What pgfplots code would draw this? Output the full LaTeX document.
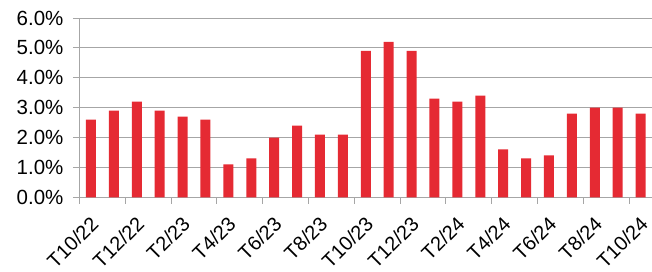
\documentclass[border=0pt]{standalone}
\usepackage{pgfplots}
\pgfplotsset{compat=1.18}
\usepackage{fontspec}
\setmainfont{Liberation Sans}
\definecolor{barred}{HTML}{E52A33}
\definecolor{gridgray}{HTML}{A6A6A6}
\begin{document}
\begin{tikzpicture}
\useasboundingbox (-79.5pt,-73.7pt) rectangle (572.5pt,197.3pt);
\begin{axis}[
  at={(0pt,0pt)}, anchor=south west,
  scale only axis, width=572.5pt, height=179.3pt,
  xmin=-0.5, xmax=24.5, ymin=0, ymax=6,
  axis x line*=bottom, axis y line*=left,
  axis line style={gridgray, line width=0.9pt},
  ytick={0,1,...,6},
  yticklabels={0.0\%,1.0\%,2.0\%,3.0\%,4.0\%,5.0\%,6.0\%},
  ymajorgrids, major grid style={gridgray, line width=0.9pt},
  xtick={0,2,...,24},
  xticklabels={T10/22,T12/22,T2/23,T4/23,T6/23,T8/23,T10/23,T12/23,T2/24,T4/24,T6/24,T8/24,T10/24},
  minor xtick={-0.5,1.5,...,23.5},
  tick align=outside,
  major tick length=6.5pt, minor tick length=6.5pt,
  x tick style={draw=none},
  minor x tick style={draw=gridgray, line width=0.9pt},
  y tick style={gridgray, line width=0.9pt},
  tick label style={font=\fontsize{20}{22}\selectfont, text=black},
  yticklabel style={font=\fontsize{20.5}{22}\selectfont, xshift=-6pt},
  xticklabel style={xshift=-1.5pt, yshift=-11pt, rotate=45, anchor=north east, inner sep=0pt, text depth=0pt},
  /pgf/number format/assume math mode=true,
  clip=false,
]
\addplot[ybar, bar width=10pt, fill=barred, draw=none] coordinates {
(0,2.6) (1,2.9) (2,3.2) (3,2.9) (4,2.7) (5,2.6) (6,1.1) (7,1.3) (8,2.0) (9,2.4) (10,2.1) (11,2.1)
(12,4.9) (13,5.2) (14,4.9) (15,3.3) (16,3.2) (17,3.4) (18,1.6) (19,1.3) (20,1.4) (21,2.8) (22,3.0) (23,3.0) (24,2.8)
};
\end{axis}
\end{tikzpicture}
\end{document}
